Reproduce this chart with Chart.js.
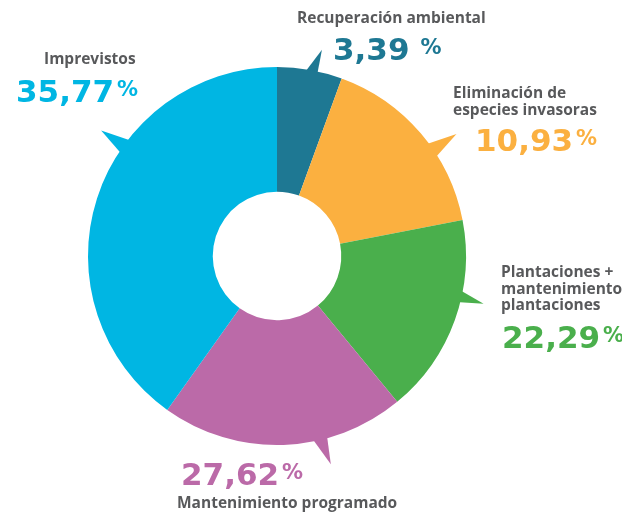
<!DOCTYPE html>
<html lang="es">
<head>
<meta charset="UTF-8">
<title>Distribución del presupuesto</title>
<script src="https://cdn.jsdelivr.net/npm/chart.js@4.4.1/dist/chart.umd.min.js"></script>
<style>
  html, body { margin: 0; padding: 0; background: #fff; }
  #wrap { width: 622px; height: 515px; position: relative; }
</style>
</head>
<body>
<div id="wrap"><canvas id="grafico" width="622" height="515"></canvas></div>
<script>
// ======================================
// DATOS
// ======================================

// orden de los sectores: empezando arriba, en sentido horario
const categorias = [
  ["Recuperación ambiental"],
  ["Eliminación de", "especies invasoras"],
  ["Plantaciones +", "mantenimiento", "plantaciones"],
  ["Mantenimiento programado"],
  ["Imprevistos"],
];

// cifras impresas en el gráfico
const porcentajes = [3.39, 10.93, 22.29, 27.62, 35.77];
const sufijos = [" %", "%", "%", "%", "%"];

// tamaño de cada sector tal como está dibujado en el original (%).
// OJO: en el original los sectores no son proporcionales a las cifras
// impresas, así que se miden aparte sobre la imagen.
const sectores = [5.56, 16.39, 17.08, 20.83, 40.14];

const colores = ["#1e7893", "#fbb040", "#4aaf4c", "#bb6aa8", "#00b6e3"];
const GRIS = "#58595b";

// ======================================
// POSICIÓN DE LAS ETIQUETAS (px) Y "PICOS" DE LOS BOCADILLOS
// ======================================

const etiquetas = [
  { tx: 297, ty: 23, nx: 333, ny: 60 },
  { tx: 453, ty: 98, nx: 475, ny: 151 },
  { tx: 501, ty: 277, nx: 502, ny: 348 },
  { tx: 177, ty: 508, nx: 181, ny: 485 },
  { tx: 44, ty: 64, nx: 16, ny: 102 },
];

// grados desde las 12 en sentido horario
const picos = [
  { desde: 8.5, hasta: 12.5, punta: 12.3, largo: 22 },
  { desde: 53, hasta: 58.3, punta: 55.8, largo: 28 },
  { desde: 100.4, hasta: 104.4, punta: 103, largo: 23 },
  { desde: 164.4, hasta: 169.2, punta: 165.5, largo: 26 },
  { desde: 303.2, hasta: 308.4, punta: 305.5, largo: 27 },
];

function formatoNumero(v) {
  return v.toFixed(2).replace(".", ",");
}

function puntoEn(arc, grados, r) {
  const rad = ((grados - 90) * Math.PI) / 180;
  return [arc.x + r * Math.cos(rad), arc.y + r * Math.sin(rad)];
}

// ======================================
// PLUGINS
// ======================================

const pluginPicos = {
  id: "picos",
  beforeDatasetsDraw(chart) {
    const ctx = chart.ctx;
    const arcos = chart.getDatasetMeta(0).data;
    ctx.save();
    picos.forEach((p, i) => {
      const arc = arcos[i];
      const R = arc.outerRadius;
      const a = puntoEn(arc, p.desde, R - 4);
      const b = puntoEn(arc, p.punta, R + p.largo);
      const c = puntoEn(arc, p.hasta, R - 4);
      ctx.beginPath();
      ctx.moveTo(a[0], a[1]);
      ctx.lineTo(b[0], b[1]);
      ctx.lineTo(c[0], c[1]);
      ctx.closePath();
      ctx.fillStyle = colores[i];
      ctx.fill();
    });
    ctx.restore();
  },
};

const pluginEtiquetas = {
  id: "etiquetas",
  afterDraw(chart) {
    const ctx = chart.ctx;
    ctx.save();
    ctx.textAlign = "left";
    ctx.textBaseline = "alphabetic";

    etiquetas.forEach((e, i) => {
      // texto de la categoría
      ctx.fillStyle = GRIS;
      ctx.font = "bold 15.5px 'Open Sans'";
      categorias[i].forEach((linea, j) => {
        ctx.fillText(linea, e.tx, e.ty + j * 16.5);
      });

      // cifra
      const numero = formatoNumero(porcentajes[i]);
      ctx.fillStyle = colores[i];
      ctx.font = "bold 31px 'DejaVu Sans'";
      ctx.fillText(numero, e.nx, e.ny);
      let x = e.nx + ctx.measureText(numero).width + 3;
      if (sufijos[i].startsWith(" ")) x += 8;
      ctx.font = "bold 21px 'DejaVu Sans'";
      ctx.fillText("%", x, e.ny - 6);
    });
    ctx.restore();
  },
};

// ======================================
// GRÁFICO
// ======================================

new Chart(document.getElementById("grafico"), {
  type: "doughnut",
  data: {
    labels: categorias.map((c) => c.join(" ")),
    datasets: [
      {
        data: sectores,
        backgroundColor: colores,
        borderWidth: 0,
      },
    ],
  },
  options: {
    responsive: false,
    animation: false,
    cutout: "34%",
    layout: { padding: { left: 88, right: 156, top: 67, bottom: 70 } },
    plugins: {
      legend: { display: false },
      tooltip: { enabled: false },
    },
    events: [],
  },
  plugins: [pluginPicos, pluginEtiquetas],
});
</script>
</body>
</html>
